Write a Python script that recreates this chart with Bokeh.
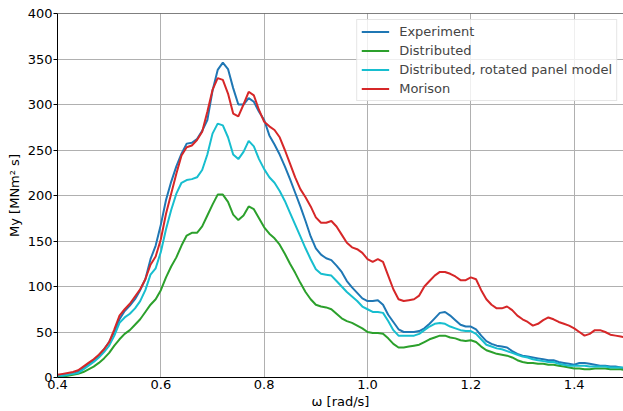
from bokeh.plotting import figure
from bokeh.models import Range1d, FixedTicker, Legend, LegendItem, Span
from bokeh.embed import file_html
from bokeh.resources import INLINE

# ---------------- data ----------------
omega = [0.40, 0.41, 0.42, 0.43, 0.44, 0.45, 0.46, 0.47, 0.48, 0.49,
         0.50, 0.51, 0.52, 0.53, 0.54, 0.55, 0.56, 0.57, 0.58, 0.59,
         0.60, 0.61, 0.62, 0.63, 0.64, 0.65, 0.66, 0.67, 0.68, 0.69,
         0.70, 0.71, 0.72, 0.73, 0.74, 0.75, 0.76, 0.77, 0.78, 0.79,
         0.80, 0.81, 0.82, 0.83, 0.84, 0.85, 0.86, 0.87, 0.88, 0.89,
         0.90, 0.91, 0.92, 0.93, 0.94, 0.95, 0.96, 0.97, 0.98, 0.99,
         1.00, 1.01, 1.02, 1.03, 1.04, 1.05, 1.06, 1.07, 1.08, 1.09,
         1.10, 1.11, 1.12, 1.13, 1.14, 1.15, 1.16, 1.17, 1.18, 1.19,
         1.20, 1.21, 1.22, 1.23, 1.24, 1.25, 1.26, 1.27, 1.28, 1.29,
         1.30, 1.31, 1.32, 1.33, 1.34, 1.35, 1.36, 1.37, 1.38, 1.39,
         1.40, 1.41, 1.42, 1.43, 1.44, 1.45, 1.46, 1.47, 1.48, 1.49, 1.50]

experiment = [2, 3, 3, 4, 6, 10, 15, 19, 24, 31,
              39, 50, 64, 73, 79, 86, 96, 108, 130, 145,
              168, 195, 215, 232, 246, 257, 258, 262, 271, 283,
              315, 338, 346, 339, 318, 300, 300, 307, 303, 292,
              283, 266, 256, 245, 232, 218, 203, 188, 172, 155,
              142, 135, 131, 129, 123, 116, 106, 99, 93, 87,
              84, 84, 85, 80, 69, 61, 53, 50, 50, 50,
              51, 54, 59, 65, 71, 72, 68, 63, 58, 56,
              56, 53, 46, 40, 37, 35, 34, 33, 29, 26,
              24, 23, 22, 21, 20, 19, 19, 17, 16, 15,
              14, 16, 16, 15, 14, 13, 13, 12, 12, 11, 10]

distributed = [1, 1, 2, 3, 4, 6, 9, 12, 16, 21,
               27, 35, 42, 48, 52, 58, 64, 72, 80, 86,
               96, 110, 122, 132, 145, 156, 159, 159, 166, 178,
               190, 201, 201, 193, 179, 173, 178, 188, 185, 175,
               165, 158, 153, 146, 136, 125, 115, 104, 94, 86,
               80, 78, 77, 75, 70, 65, 62, 60, 57, 54,
               50, 49, 49, 48, 43, 37, 33, 33, 34, 35,
               36, 39, 42, 44, 46, 46, 44, 43, 41, 40,
               41, 39, 34, 30, 28, 26, 25, 24, 22, 19,
               17, 16, 16, 15, 15, 14, 14, 13, 12, 11,
               10, 10, 9, 9, 10, 10, 10, 9, 9, 9, 8]

rotated_panel = [2, 2, 3, 4, 5, 9, 13, 17, 22, 28,
                 35, 46, 60, 66, 70, 76, 84, 96, 113, 120,
                 138, 163, 184, 202, 214, 217, 218, 220, 228, 245,
                 268, 279, 277, 264, 245, 240, 248, 260, 254, 240,
                 229, 220, 214, 205, 194, 181, 168, 155, 142, 130,
                 119, 114, 113, 112, 106, 100, 94, 89, 84, 78,
                 75, 72, 72, 71, 62, 52, 46, 46, 46, 46,
                 48, 52, 56, 59, 60, 59, 56, 54, 52, 51,
                 51, 48, 42, 36, 34, 32, 31, 29, 27, 25,
                 23, 22, 20, 19, 18, 17, 17, 15, 14, 13,
                 13, 13, 13, 12, 12, 12, 12, 11, 11, 11, 11]

morison = [3, 4, 5, 6, 8, 12, 16, 20, 25, 31,
           39, 53, 68, 75, 81, 89, 97, 108, 124, 133,
           152, 180, 202, 224, 244, 253, 255, 261, 270, 292,
           316, 329, 327, 312, 290, 287, 300, 314, 310, 294,
           281, 276, 272, 264, 250, 235, 220, 207, 198, 188,
           176, 170, 170, 172, 166, 157, 148, 143, 141, 137,
           130, 127, 130, 127, 112, 97, 86, 84, 85, 86,
           90, 100, 106, 112, 116, 116, 114, 111, 107, 107,
           110, 108, 96, 86, 80, 76, 76, 78, 74, 68,
           64, 61, 57, 59, 63, 66, 64, 61, 59, 57,
           54, 50, 46, 48, 52, 52, 50, 47, 46, 45, 44]

series_names = ["Experiment", "Distributed", "Distributed, rotated panel model", "Morison"]
series_colors = ["#1f77b4", "#2ca02c", "#17becf", "#d62728"]

x_ticks = [0.4, 0.6, 0.8, 1.0, 1.2, 1.4]
x_tick_labels = ["0.4", "0.6", "0.8", "1.0", "1.2", "1.4"]
y_ticks = [0, 50, 100, 150, 200, 250, 300, 350, 400]
y_tick_labels = ["0", "50", "100", "150", "200", "250", "300", "350", "400"]
x_label = "ω [rad/s]"
y_label = "My [MNm² s]"

# ---------------- layout ----------------
W, H = 623, 411
ML, MR, MT, MB = 57, 0, 13, 33
X0, X1 = 0.4, 1.4954
Y0, Y1 = 0, 400
FONT = "DejaVu Sans"
FS = "13px"

p = figure(width=W, height=H, x_range=Range1d(X0, X1), y_range=Range1d(Y0, Y1),
           output_backend="svg", toolbar_location=None,
           min_border_left=ML, min_border_right=MR, min_border_top=MT, min_border_bottom=MB)
p.outline_line_color = None
p.background_fill_color = "white"
p.border_fill_color = "white"

renderers = []
for vals, color in zip([experiment, distributed, rotated_panel, morison], series_colors):
    r = p.line(omega, vals, line_color=color, line_width=2)
    renderers.append(r)

p.xaxis.ticker = FixedTicker(ticks=x_ticks)
p.yaxis.ticker = FixedTicker(ticks=y_ticks)
p.xaxis.major_label_overrides = {t: l for t, l in zip(x_ticks, x_tick_labels)}
p.yaxis.major_label_overrides = {t: l for t, l in zip(y_ticks, y_tick_labels)}
p.xaxis.axis_label = x_label
p.yaxis.axis_label = y_label
for ax in (p.xaxis[0], p.yaxis[0]):
    ax.axis_line_color = "black"
    ax.axis_line_width = 1
    ax.major_tick_line_color = "black"
    ax.minor_tick_line_color = None
    ax.major_tick_in = 0
    ax.major_label_text_font = FONT
    ax.major_label_text_font_size = FS
    ax.major_label_text_color = "black"
    ax.axis_label_text_font = FONT
    ax.axis_label_text_font_size = FS
    ax.axis_label_text_font_style = "normal"
    ax.axis_label_text_color = "black"
p.xaxis.major_tick_out = 0
p.xaxis.major_label_standoff = 2
p.xaxis.axis_label_standoff = 2
p.yaxis.major_tick_out = 4
p.yaxis.major_label_standoff = 1
p.yaxis.axis_label_standoff = 3

p.grid.grid_line_color = "#b0b0b0"
p.grid.grid_line_width = 1

# top spine
p.add_layout(Span(location=Y1, dimension="width", line_color="black", line_width=1))

legend = Legend(items=[LegendItem(label=n, renderers=[r]) for n, r in zip(series_names, renderers)],
                location="top_right", margin=6, padding=4, spacing=4,
                glyph_width=28, glyph_height=15, label_height=15, label_standoff=10,
                label_text_font=FONT, label_text_font_size=FS,
                border_line_color="#cccccc", border_line_width=1,
                background_fill_color="white", background_fill_alpha=0.8)
p.add_layout(legend)

open("out.html", "w").write(file_html(p, INLINE))
